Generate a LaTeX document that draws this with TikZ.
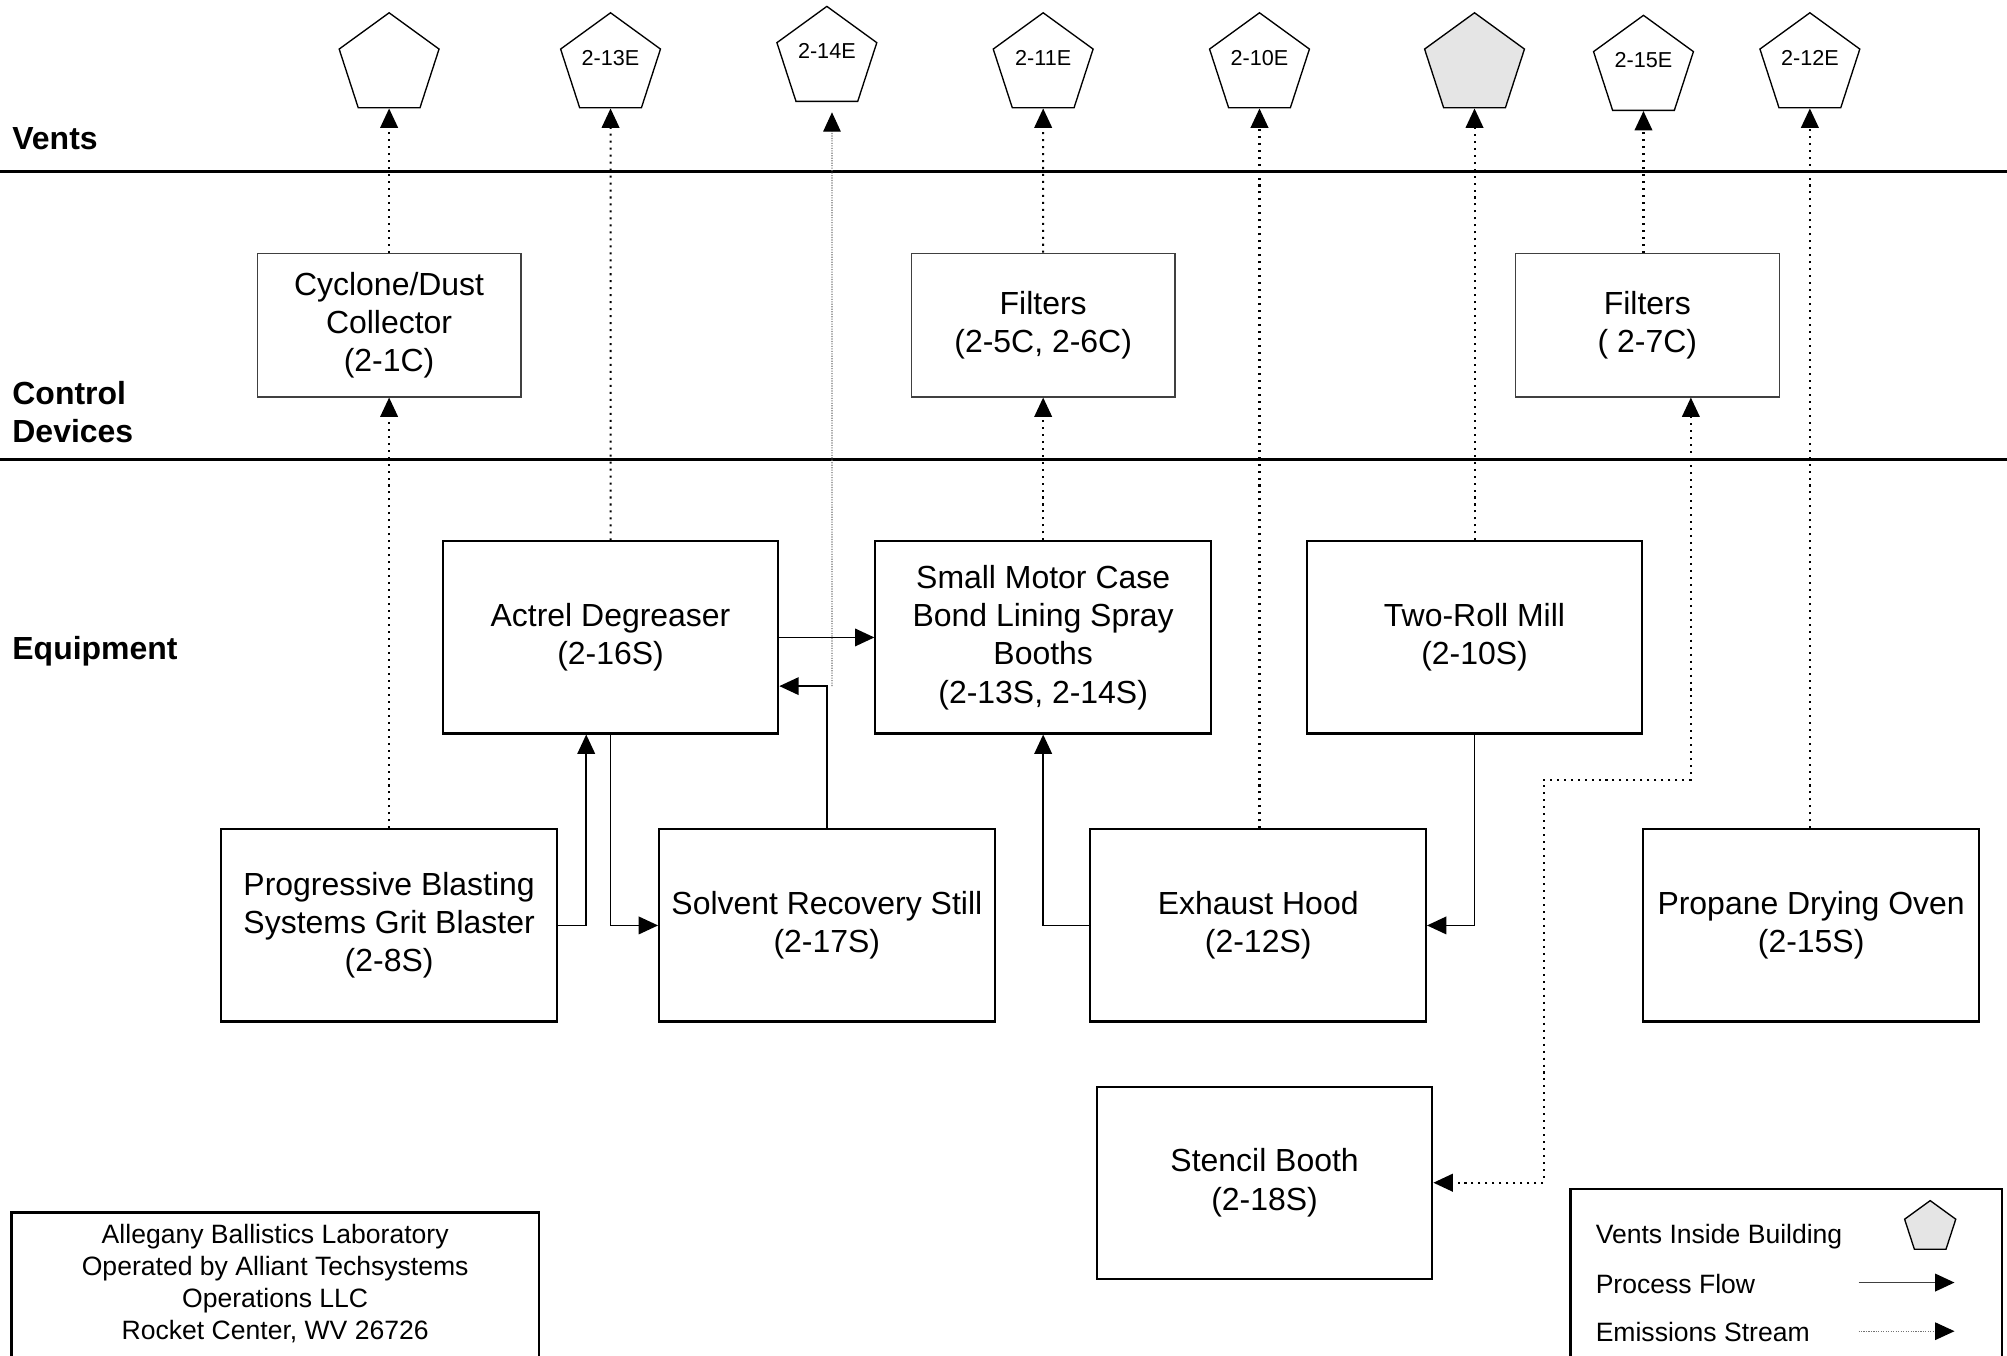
\documentclass[tikz,border=0pt]{standalone}
\usepackage{fontspec}
\setmainfont{Liberation Sans}
\usetikzlibrary{shapes.geometric,arrows.meta}

\begin{document}
\begin{tikzpicture}[x=0.01cm, y=-0.01cm,
    equip/.style={draw, line width=0.45pt, minimum width=2.62cm, minimum height=1.5cm,
        inner sep=0pt, align=center, font=\fontsize{7.1}{8.5}\selectfont},
    ctrl/.style={draw=black!75, line width=0.3pt, minimum width=2.06cm, minimum height=1.12cm,
        inner sep=0pt, align=center, font=\fontsize{7.1}{8.5}\selectfont},
    vent/.style={draw, line width=0.3pt, regular polygon, regular polygon sides=5,
        minimum size=0.82cm, inner sep=0pt, text depth=0.12cm, font=\fontsize{4.8}{5.5}\selectfont},
    inside/.style={vent, fill=black!10},
    zone/.style={anchor=west, align=left, inner sep=0pt, font=\bfseries\fontsize{7.1}{8.5}\selectfont},
    small/.style={align=center, font=\fontsize{5.9}{7.1}\selectfont},
    flow/.style={line width=0.4pt, -{Triangle[length=4.3pt,width=3.9pt,color=black]}},
    emis/.style={flow, line width=0.45pt, dash pattern=on 0.45pt off 1.1pt},
    faint/.style={flow, draw=black!55, line width=0.25pt, dash pattern=on 0.25pt off 0.3pt}
]

    \useasboundingbox (0,0) rectangle (1568,1059);
    \clip (0,0) rectangle (1568,1059);

    % Zones
    % -----
    \draw[line width=0.6pt] (0,134) -- (1568,134);
    \draw[line width=0.6pt] (0,359) -- (1568,359);
    \node[zone] (zv) at (9,108) {Vents};
    \node[zone] (zc) at (9,322) {Control\\Devices};
    \node[zone] (ze) at (9,509) {Equipment};

    % Vents
    % -----
    \node[vent]   (v1) at (304,51)  {};
    \node[vent]   (v2) at (477,51)  {2-13E};
    \node[vent]   (v3) at (646,46)  {2-14E};
    \node[vent]   (v4) at (815,51)  {2-11E};
    \node[vent]   (v5) at (984,51)  {2-10E};
    \node[inside] (v6) at (1152,51) {};
    \node[vent]   (v7) at (1284,53) {2-15E};
    \node[vent]   (v8) at (1414,51) {2-12E};

    % Control devices
    % ---------------
    \node[ctrl] (cyclone)  at (304,254)  {Cyclone/Dust\\Collector\\(2-1C)};
    \node[ctrl] (filtersa) at (815,254)  {Filters\\(2-5C, 2-6C)};
    \node[ctrl] (filtersb) at (1287,254) {Filters\\( 2-7C)};

    % Equipment
    % ---------
    \node[equip] (degreaser) at (477,498)  {Actrel Degreaser\\(2-16S)};
    \node[equip] (spray)     at (815,498)  {Small Motor Case\\Bond Lining Spray\\Booths\\(2-13S, 2-14S)};
    \node[equip] (mill)      at (1152,498) {Two-Roll Mill\\(2-10S)};
    \node[equip] (blaster)   at (304,723)  {Progressive Blasting\\Systems Grit Blaster\\(2-8S)};
    \node[equip] (still)     at (646,723)  {Solvent Recovery Still\\(2-17S)};
    \node[equip] (hood)      at (983,723)  {Exhaust Hood\\(2-12S)};
    \node[equip] (oven)      at (1415,723) {Propane Drying Oven\\(2-15S)};
    \node[equip] (stencil)   at (988,924)  {Stencil Booth\\(2-18S)};

    % Process flow
    % ------------
    \draw[flow] (blaster.east) -| ([xshift=-0.19cm]degreaser.south);
    \draw[flow] (degreaser.south) |- (still.west);
    \draw[flow] (degreaser.east) -- (spray.west);
    \draw[flow] (still.north) |- coordinate[pos=0.5] (stillturn) ([yshift=-0.38cm]degreaser.east);
    \draw[flow] (hood.west) -| (spray.south);
    \draw[flow] (mill.south) |- (hood.east);

    % Emissions
    % ---------
    \draw[emis] (blaster.north) -- (cyclone.south);
    \draw[emis] (cyclone.north) -- (v1.south);
    \draw[emis] (degreaser.north) -- (v2.south);
    \draw[faint] ([xshift=0.04cm]stillturn) -- ([xshift=0.04cm,yshift=-0.08cm]v3.south);
    \draw[emis] (spray.north) -- (filtersa.south);
    \draw[emis] (filtersa.north) -- (v4.south);
    \draw[emis] (v5.south |- hood.north) -- (v5.south);
    \draw[emis] (mill.north) -- (v6.south);
    \draw[emis] (v7.south |- filtersb.north) -- (v7.south);
    \draw[emis] (v8.south |- oven.north) -- (v8.south);
    \coordinate (jog) at (1206,609);
    \draw[emis, {Triangle[length=4.3pt,width=3.9pt]}-{Triangle[length=4.3pt,width=3.9pt]}]
        ([xshift=0.34cm]filtersb.south) |- (jog) |- (stencil.east);

    % Site
    % ----
    \draw[line width=0.6pt] (9,1075) |- (421,947) -- (421,1075);
    \node[small] (site) at (215,1003) {Allegany Ballistics Laboratory\\Operated by Alliant Techsystems\\Operations LLC\\Rocket Center, WV 26726};

    % Legend
    % ------
    \draw[line width=0.6pt] (1227,1075) |- (1564,929) -- (1564,1075);
    \node[small, anchor=west, inner sep=0pt] (lv) at (1246,966)  {Vents Inside Building};
    \node[small, anchor=west, inner sep=0pt] (lp) at (1246,1003) {Process Flow};
    \node[small, anchor=west, inner sep=0pt] (le) at (1246,1041) {Emissions Stream};
    \node[inside, minimum size=0.42cm] (lvent) at (1508,959) {};
    \coordinate (lpa) at (1452,1002);
    \coordinate (lpb) at (1527,1002);
    \coordinate (lea) at (1452,1040);
    \coordinate (leb) at (1527,1040);
    \draw[flow, draw=black!75] (lpa) -- (lpb);
    \draw[faint] (lea) -- (leb);

\end{tikzpicture}
\end{document}
